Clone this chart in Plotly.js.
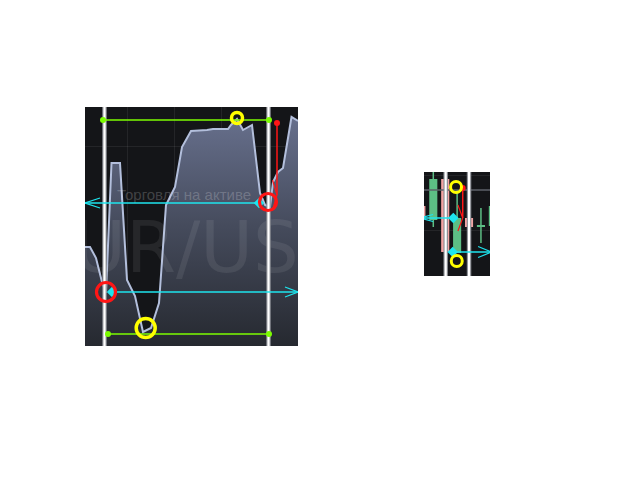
<!DOCTYPE html>
<html>
<head>
<meta charset="utf-8">
<script src="https://cdn.plot.ly/plotly-3.0.1.min.js"></script>
<style>
    html, body { margin: 0; padding: 0; background: #ffffff; }
    #chart { width: 640px; height: 480px; }
</style>
</head>
<body>
<div id="chart"></div>
<script>
// ==========================================================
// LEFT PANEL - EUR/USD area chart
// ==========================================================

const areaTime  = [0, 5, 11, 17, 21, 26.5, 35, 42, 50, 58, 66, 74, 81, 90, 97, 106,
                   122, 128, 143, 146, 152, 158, 167, 175, 180, 185, 188, 193, 198, 206.5, 213];
const areaPrice = [1.08099, 1.08099, 1.08088, 1.08064, 1.08053, 1.08183, 1.08183, 1.08066,
                   1.08050, 1.08014, 1.08018, 1.08043, 1.08141, 1.08159, 1.08199, 1.08215,
                   1.08216, 1.08217, 1.08217, 1.08221, 1.08227, 1.08216, 1.08221, 1.08153,
                   1.08141, 1.08139, 1.08164, 1.08174, 1.08178, 1.08229, 1.08225];

const leftTimeRange  = [0, 213];
const leftPriceRange = [1.08000, 1.08239];

// drawing tools on the left chart
const leftEntryTimes   = [19.5, 183.5];
const leftHighTimes    = [18, 184];
const leftHighPrice    = 1.08226;
const leftLowTimes     = [23, 184];
const leftLowPrice     = 1.08012;
const leftCyanTimes    = [0, 174, 27, 213];
const leftCyanPrices   = [1.08143, 1.08143, 1.08054, 1.08054];
const leftRedTimes     = [21, 183];
const leftRedPrices    = [1.08054, 1.08144];
const leftYellowTimes  = [152, 60.7];
const leftYellowPrices = [1.08228, 1.08018];
const leftArrowTime    = 192;
const leftArrowPrices  = [1.08223, 1.08151];

const watermark = "EUR/USD";
const caption   = "Торговля на активе";


// ==========================================================
// RIGHT PANEL - candles
// ==========================================================

const candleIndex = [0, 1, 2, 3, 4, 5, 6];
const candleOpen  = [1.08570, 1.08556, 1.08597, 1.08523, 1.08558, 1.08549, 1.08550];
const candleClose = [1.08557, 1.08597, 1.08524, 1.08558, 1.08549, 1.08551, 1.08570];
const candleHigh  = [1.08572, 1.08610, 1.08597, 1.08586, 1.08558, 1.08568, 1.08572];
const candleLow   = [1.08555, 1.08549, 1.08524, 1.08523, 1.08549, 1.08533, 1.08548];

const rightIndexRange = [0.22, 5.76];
const rightPriceRange = [1.08500, 1.08604];

const rightEntryTimes   = [2.04, 4.0];
const rightPriceLine    = 1.08586;
const rightCyanTimes    = [-0.12, 2.68, 2.63, 5.91];
const rightCyanPrices   = [1.08558, 1.08558, 1.08524, 1.08524];
const rightYellowTimes  = [2.91, 2.97];
const rightYellowPrices = [1.08589, 1.08515];
const rightArrowTime    = 3.47;
const rightArrowPrices  = [1.08588, 1.08558];


// colours
const GREEN_LVL = "#7cfc00";
const CYAN      = "#1ee4ee";
const RED       = "#ff1616";
const YELLOW    = "#ffff00";
const UP        = "#5dbe85";
const DOWN      = "#f3a3a3";


// ==========================================================
// HELPERS
// ==========================================================

function pairs(times, prices){
    // consecutive pairs -> separate segments
    let x = [], y = [];
    for (let i = 0; i < times.length; i += 2){
        x.push(times[i], times[i+1], null);
        y.push(prices[i], prices[i+1], null);
    }
    return {x: x, y: y};
}

function verticals(times, range){
    let x = [], y = [];
    times.forEach(t => { x.push(t, t, null); y.push(range[0], range[1], null); });
    return {x: x, y: y};
}

function head(tipX, tipY, dx, dy){
    return {x: [tipX + dx, tipX, tipX + dx], y: [tipY + dy, tipY, tipY - dy]};
}

function lineTrace(xy, color, width, xa, ya){
    return {x: xy.x, y: xy.y, xaxis: xa, yaxis: ya, type: "scatter", mode: "lines",
            line: {color: color, width: width}, hoverinfo: "skip", showlegend: false};
}

function markerTrace(x, y, symbol, size, color, lineW, xa, ya){
    let open = symbol.indexOf("open") >= 0;
    return {x: x, y: y, xaxis: xa, yaxis: ya, type: "scatter", mode: "markers",
            marker: {symbol: symbol, size: size, color: color, opacity: 1,
                     line: {color: color, width: open ? lineW : 0}},
            hoverinfo: "skip", showlegend: false};
}


// ==========================================================
// BUILD TRACES
// ==========================================================

let traces = [];

// ---- left: area
traces.push({
    x: areaTime, y: areaPrice, xaxis: "x", yaxis: "y",
    type: "scatter", mode: "lines", fill: "tozeroy",
    line: {color: "#b3bfdc", width: 2},
    fillgradient: {
        type: "vertical",
        start: leftPriceRange[0], stop: leftPriceRange[1],
        colorscale: [[0, "#262930"], [0.5, "#454b5c"], [1, "#6a7391"]]
    },
    hoverinfo: "skip", showlegend: false
});

// ---- left: watermark + caption
traces.push({
    x: [106], y: [1.08092], xaxis: "x", yaxis: "y", type: "scatter", mode: "text",
    text: [watermark], textposition: "middle center",
    textfont: {family: "DejaVu Sans", size: 72, color: "rgba(255,255,255,0.08)"},
    hoverinfo: "skip", showlegend: false
});
traces.push({
    x: [99], y: [1.08150], xaxis: "x", yaxis: "y", type: "scatter", mode: "text",
    text: [caption], textposition: "middle center",
    textfont: {family: "Liberation Sans", size: 15, color: "rgba(255,255,255,0.2)"},
    hoverinfo: "skip", showlegend: false
});

// ---- left: white time markers
traces.push(lineTrace(verticals(leftEntryTimes, leftPriceRange), "#8a8d93", 4.5, "x", "y"));
traces.push(lineTrace(verticals(leftEntryTimes, leftPriceRange), "#ffffff", 2.2, "x", "y"));

// ---- left: green high / low levels
traces.push({
    x: [leftHighTimes[0], leftHighTimes[1], null, leftLowTimes[0], leftLowTimes[1]],
    y: [leftHighPrice, leftHighPrice, null, leftLowPrice, leftLowPrice],
    xaxis: "x", yaxis: "y", type: "scatter", mode: "lines+markers",
    line: {color: GREEN_LVL, width: 1.5}, marker: {color: GREEN_LVL, size: 6},
    hoverinfo: "skip", showlegend: false
});

// ---- left: cyan lines
traces.push(lineTrace(pairs(leftCyanTimes, leftCyanPrices), CYAN, 1.5, "x", "y"));
traces.push(lineTrace(head(leftCyanTimes[0], leftCyanPrices[0], 15, 0.00005), CYAN, 1.2, "x", "y"));
traces.push(lineTrace(head(leftCyanTimes[3], leftCyanPrices[3], -13, 0.00005), CYAN, 1.2, "x", "y"));
traces.push(markerTrace([leftCyanTimes[1], leftCyanTimes[2]], [leftCyanPrices[1], leftCyanPrices[2]],
                        "diamond", 8, CYAN, 0, "x", "y"));

// ---- left: red arrow
traces.push(lineTrace({x: [leftArrowTime, leftArrowTime], y: leftArrowPrices}, RED, 1.5, "x", "y"));
traces.push(lineTrace(head(leftArrowTime, leftArrowPrices[1], -4.5, 0.00015), RED, 1.2, "x", "y"));
traces.push(markerTrace([leftArrowTime], [leftArrowPrices[0]], "circle", 6, RED, 0, "x", "y"));

// ---- left: circles
traces.push(markerTrace(leftRedTimes, leftRedPrices, "circle-open", [19, 17], RED, 3.2, "x", "y"));
traces.push(markerTrace(leftYellowTimes, leftYellowPrices, "circle-open", [11, 19], YELLOW, 3.5, "x", "y"));


// ---- right: candles (bodies as bars, wicks as lines)
let bodyBase = [], bodyHeight = [], bodyColor = [];
let upWick = {x: [], y: []}, downWick = {x: [], y: []};

candleIndex.forEach((t, i) => {
    let o = candleOpen[i], c = candleClose[i];
    bodyBase.push(Math.min(o, c));
    bodyHeight.push(Math.abs(c - o));
    bodyColor.push(c >= o ? UP : DOWN);
    let w = c >= o ? upWick : downWick;
    w.x.push(t, t, null);
    w.y.push(candleLow[i], candleHigh[i], null);
});

traces.push({
    x: candleIndex, y: bodyHeight, base: bodyBase, xaxis: "x2", yaxis: "y2",
    type: "bar", width: 0.68, marker: {color: bodyColor, line: {width: 0}},
    hoverinfo: "skip", showlegend: false
});
traces.push(lineTrace(upWick, UP, 1.5, "x2", "y2"));
traces.push(lineTrace(downWick, DOWN, 1.5, "x2", "y2"));

// ---- right: price line
traces.push(lineTrace({x: rightIndexRange, y: [rightPriceLine, rightPriceLine]}, "#5d6068", 1.5, "x2", "y2"));

// ---- right: white time markers
traces.push(lineTrace(verticals(rightEntryTimes, rightPriceRange), "#8a8d93", 4.5, "x2", "y2"));
traces.push(lineTrace(verticals(rightEntryTimes, rightPriceRange), "#ffffff", 2.2, "x2", "y2"));

// ---- right: cyan lines
traces.push(lineTrace(pairs(rightCyanTimes, rightCyanPrices), CYAN, 1.5, "x2", "y2"));
traces.push(lineTrace(head(rightCyanTimes[0], rightCyanPrices[0], 1.1, 0.000035), CYAN, 1.2, "x2", "y2"));
traces.push(lineTrace(head(rightCyanTimes[3], rightCyanPrices[3], -1.15, 0.000055), CYAN, 1.2, "x2", "y2"));
traces.push(markerTrace([rightCyanTimes[1], rightCyanTimes[2]], [rightCyanPrices[1], rightCyanPrices[2]],
                        "diamond", 8, CYAN, 0, "x2", "y2"));

// ---- right: red arrow
traces.push(lineTrace({x: [rightArrowTime, rightArrowTime], y: rightArrowPrices}, RED, 1.5, "x2", "y2"));
traces.push(lineTrace(head(rightArrowTime, rightArrowPrices[1], -0.4, 0.00013), RED, 1.2, "x2", "y2"));
traces.push(markerTrace([rightArrowTime], [rightArrowPrices[0]], "circle", 6, RED, 0, "x2", "y2"));

// ---- right: yellow circles
traces.push(markerTrace(rightYellowTimes, rightYellowPrices, "circle-open", 11, YELLOW, 3, "x2", "y2"));


// ==========================================================
// LAYOUT
// ==========================================================

const hidden = {showticklabels: false, ticks: "", showline: false, zeroline: false, fixedrange: true};
const GRID = "rgba(255,255,255,0.07)";

const layout = {
    width: 640, height: 480,
    margin: {l: 0, r: 0, t: 0, b: 0},
    paper_bgcolor: "#ffffff",
    plot_bgcolor: "#141518",
    showlegend: false,
    barmode: "overlay",
    xaxis: Object.assign({}, hidden, {
        domain: [85/640, 298/640], range: leftTimeRange,
        showgrid: true, gridcolor: GRID, tick0: 42, dtick: 47
    }),
    yaxis: Object.assign({}, hidden, {
        domain: [134/480, 373/480], range: leftPriceRange,
        showgrid: true, gridcolor: GRID, tick0: 1.08026, dtick: 0.00174
    }),
    xaxis2: Object.assign({}, hidden, {
        domain: [424/640, 490/640], range: rightIndexRange, anchor: "y2",
        showgrid: false
    }),
    yaxis2: Object.assign({}, hidden, {
        domain: [204/480, 308/480], range: rightPriceRange, anchor: "x2",
        showgrid: true, gridcolor: GRID, tick0: 1.08546, dtick: 0.00055
    })
};

Plotly.newPlot("chart", traces, layout, {staticPlot: true, displayModeBar: false});
</script>
</body>
</html>
